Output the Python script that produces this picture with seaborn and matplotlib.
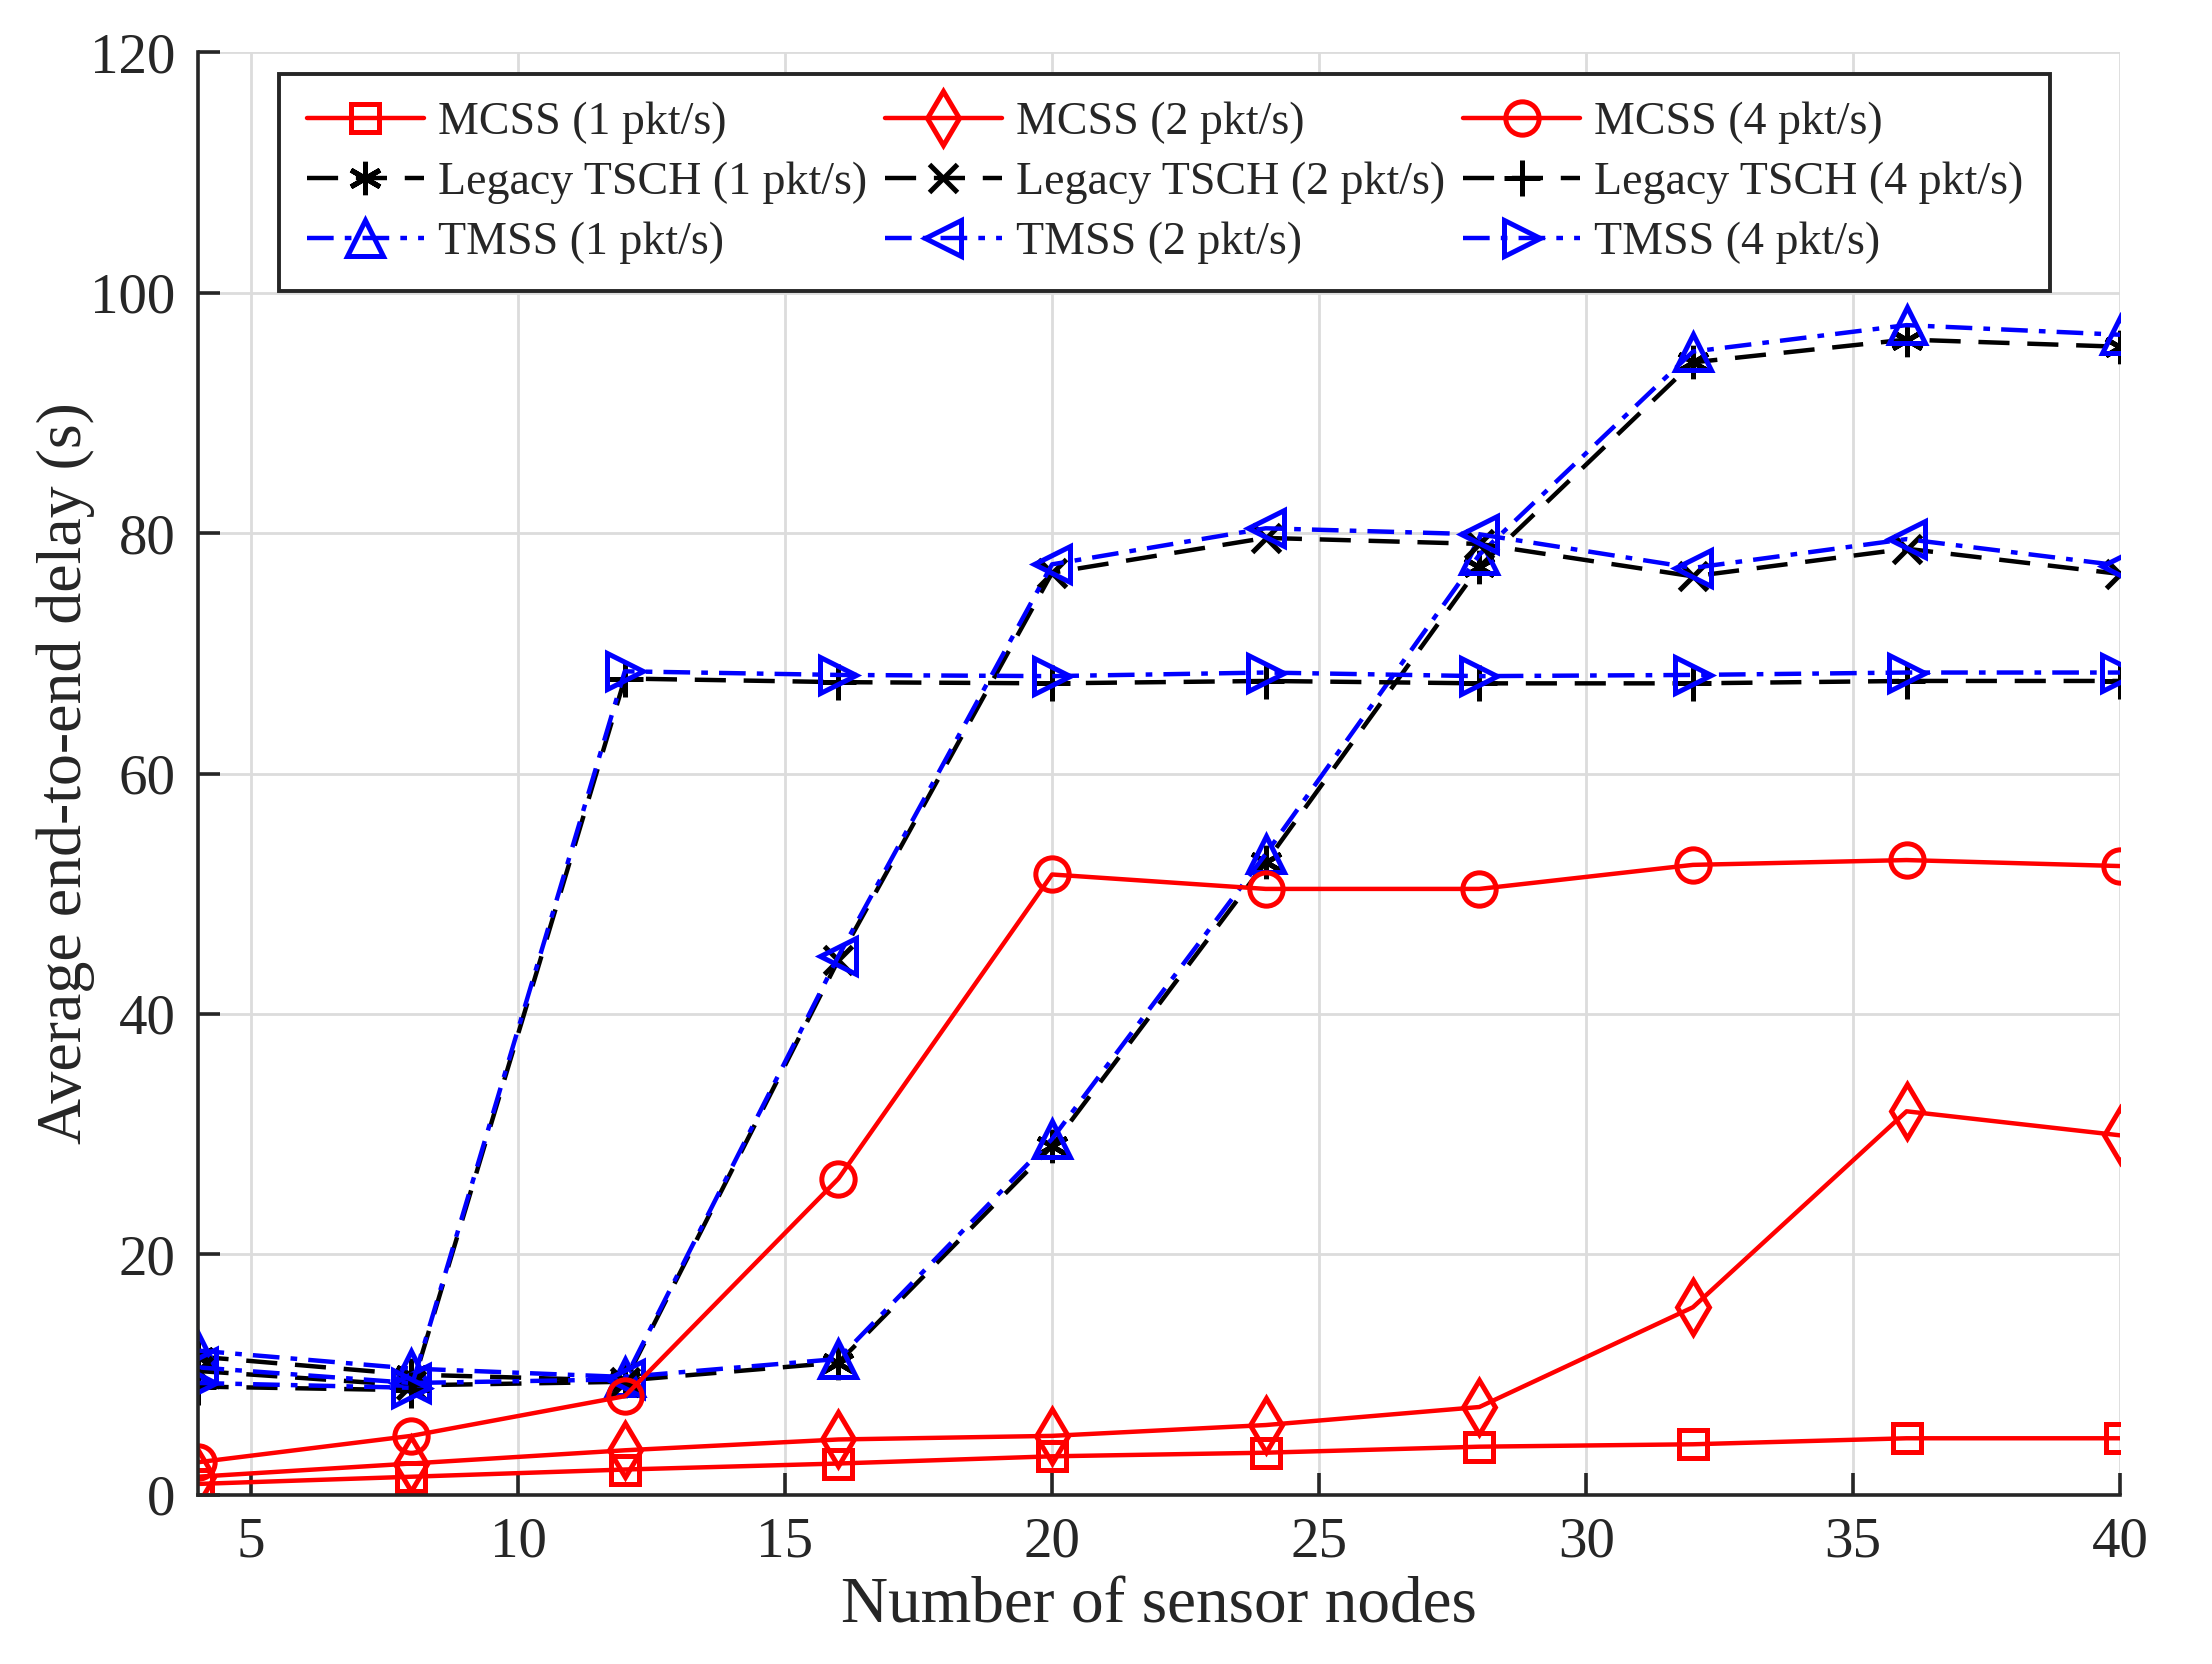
import matplotlib
matplotlib.use('Agg')
from matplotlib import pyplot as plt
import seaborn as sns
import pandas as pd

nodes = [4, 8, 12, 16, 20, 24, 28, 32, 36, 40]

mcss_1 = [0.9, 1.5, 2.1, 2.6, 3.2, 3.5, 4.0, 4.2, 4.7, 4.7]
mcss_2 = [1.5, 2.6, 3.7, 4.6, 4.9, 5.8, 7.3, 15.6, 31.9, 29.9]
mcss_4 = [2.7, 4.9, 8.2, 26.3, 51.6, 50.4, 50.4, 52.4, 52.8, 52.3]

legacy_1 = [11.5, 10.0, 9.5, 11.0, 29.0, 52.6, 77.2, 94.2, 96.1, 95.5]
legacy_2 = [10.3, 9.1, 9.4, 44.5, 76.7, 79.6, 79.1, 76.4, 78.7, 76.6]
legacy_4 = [9.0, 8.7, 67.9, 67.6, 67.5, 67.7, 67.5, 67.5, 67.7, 67.7]

tmss_1 = [12.0, 10.5, 9.8, 11.3, 29.6, 53.3, 78.2, 95.1, 97.3, 96.5]
tmss_2 = [10.6, 9.3, 9.6, 44.8, 77.4, 80.4, 79.9, 77.1, 79.5, 77.3]
tmss_4 = [9.3, 8.9, 68.5, 68.2, 68.1, 68.4, 68.1, 68.2, 68.4, 68.4]

dashed = (0, (7, 4))
dashdot = (0, (6, 2.5, 1.5, 2.5))

# label, values, colour, marker, linestyle, marker size
series = [
    ("MCSS (1 pkt/s)", mcss_1, "red", "s", "-", 10),
    ("Legacy TSCH (1 pkt/s)", legacy_1, "black", (6, 2, 0), dashed, 12),
    ("TMSS (1 pkt/s)", tmss_1, "blue", "^", dashdot, 13),
    ("MCSS (2 pkt/s)", mcss_2, "red", "d", "-", 14),
    ("Legacy TSCH (2 pkt/s)", legacy_2, "black", "x", dashed, 10),
    ("TMSS (2 pkt/s)", tmss_2, "blue", "<", dashdot, 13),
    ("MCSS (4 pkt/s)", mcss_4, "red", "o", "-", 12),
    ("Legacy TSCH (4 pkt/s)", legacy_4, "black", "+", dashed, 13),
    ("TMSS (4 pkt/s)", tmss_4, "blue", ">", dashdot, 13),
]

sns.set_style("white")
plt.rcParams['font.family'] = ['Liberation Serif', 'DejaVu Serif']

fig, ax = plt.subplots(figsize=(11.06, 8.32), dpi=200)
fig.subplots_adjust(left=0.0893, right=0.9585, bottom=0.1017, top=0.9686)

for label, vals, color, marker, ls, ms in series:
    df = pd.DataFrame({"nodes": nodes, "delay": vals})
    sns.lineplot(data=df, x="nodes", y="delay", ax=ax, color=color,
                 linestyle=ls, linewidth=1.6, marker=marker, markersize=ms,
                 mfc="none", mec=color, mew=1.8, label=label)

ax.set_xlim(4, 40)
ax.set_ylim(0, 120)
ax.set_xticks([5, 10, 15, 20, 25, 30, 35, 40])
ax.set_yticks([0, 20, 40, 60, 80, 100, 120])
ax.grid(True, color="#dcdcdc", linewidth=1.0)
ax.set_axisbelow(True)

for side in ("top", "right"):
    ax.spines[side].set_visible(False)
for side in ("left", "bottom"):
    ax.spines[side].set_color("#262626")
    ax.spines[side].set_linewidth(1.3)
ax.tick_params(direction="in", length=8, width=1.3, colors="#262626",
               labelsize=20.5, left=True, bottom=True, pad=8)

ax.set_xlabel("Number of sensor nodes", fontsize=23.5, color="#262626", labelpad=3)
ax.set_ylabel("Average end-to-end delay (s)", fontsize=23, color="#262626", labelpad=-2)

handles, labels = ax.get_legend_handles_labels()
leg = ax.legend(handles, labels, ncol=3, loc="upper left",
                bbox_to_anchor=(0.0426, 0.985), borderaxespad=0,
                fontsize=16.5, handlelength=2.55, handletextpad=0.3,
                columnspacing=0.4, labelspacing=0.38, borderpad=0.6,
                fancybox=False, framealpha=1, edgecolor="#262626")
leg.get_frame().set_linewidth(1.4)

plt.savefig("out.png", dpi=200)
plt.close()
